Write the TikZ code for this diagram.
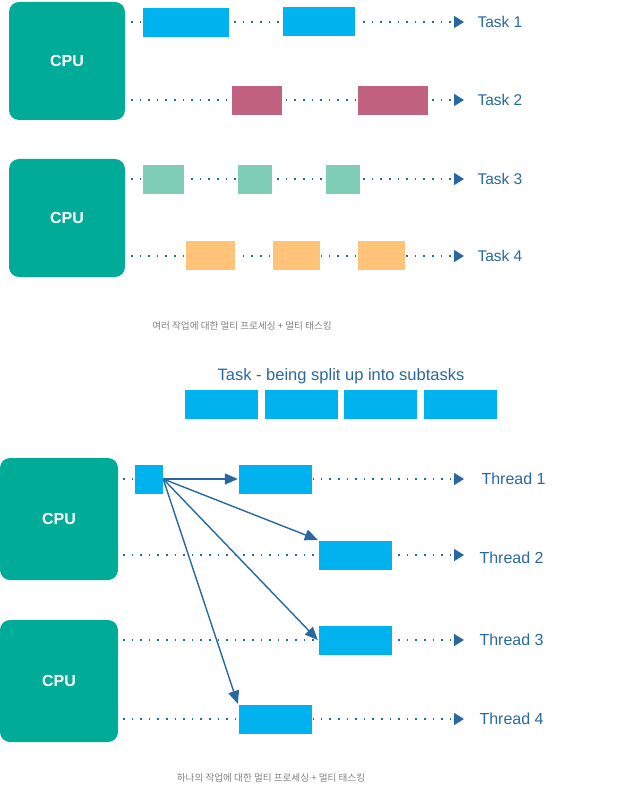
\documentclass[tikz,border=0pt]{standalone}
\usepackage{fontspec}
\setmainfont{Liberation Sans}
\newfontfamily\korean{Noto Sans CJK KR}
\usetikzlibrary{arrows.meta}
\definecolor{cputeal}{RGB}{0,171,151}
\definecolor{taskblue}{RGB}{0,178,238}
\definecolor{taskpink}{RGB}{193,98,128}
\definecolor{taskgreen}{RGB}{128,205,182}
\definecolor{taskorange}{RGB}{255,196,122}
\definecolor{linkblue}{RGB}{40,104,160}
\definecolor{captiongray}{RGB}{128,128,128}

\begin{document}
\begin{tikzpicture}[x=1pt,y=-1pt,
    cpu/.style={fill=cputeal,rounded corners=10pt,inner sep=0pt,text=white,
        font=\fontsize{16}{18}\selectfont\bfseries},
    blk/.style={fill=#1,draw=white,line width=0.4pt,inner sep=0pt,minimum height=30pt},
    timeline/.style={linkblue,line width=1.6pt,dash pattern=on 1.6pt off 7pt,
        -{Triangle[width=12pt,length=10pt]}},
    spawn/.style={linkblue,line width=1.4pt,-{Triangle[width=11pt,length=13pt]}},
    lbl/.style={anchor=west,text=linkblue,font=\fontsize{15.5}{18}\selectfont},
    caption/.style={text=captiongray,font=\korean\fontsize{9.6}{11}\selectfont}]
			\useasboundingbox (0,0) rectangle (619,802);
			\node[cpu,minimum width=116pt,minimum height=118pt] (cpu1) at (67,61) {CPU};
			\node[cpu,minimum width=116pt,minimum height=118pt] (cpu2) at (67,218) {CPU};
			\node[cpu,minimum width=118pt,minimum height=122pt] (cpu3) at (59,519) {CPU};
			\node[cpu,minimum width=118pt,minimum height=122pt] (cpu4) at (59,681) {CPU};

			\coordinate (s1) at (131,22);
			\coordinate (e1) at (464,22);
			\coordinate (s2) at (131,100);
			\coordinate (e2) at (464,100);
			\coordinate (s3) at (131,179);
			\coordinate (e3) at (464,179);
			\coordinate (s4) at (131,256);
			\coordinate (e4) at (464,256);
			\draw[timeline] (s1) -- (e1);
			\draw[timeline] (s2) -- (e2);
			\draw[timeline] (s3) -- (e3);
			\draw[timeline] (s4) -- (e4);
			\node[lbl] (task1) at (474,22) {Task 1};
			\node[lbl] (task2) at (474,100) {Task 2};
			\node[lbl] (task3) at (474,179) {Task 3};
			\node[lbl] (task4) at (474,256) {Task 4};

			\node[blk=taskblue,minimum width=87pt] (b11) at (185.5,22.5) {};
			\node[blk=taskblue,minimum width=73pt] (b12) at (318.5,21.5) {};
			\node[blk=taskpink,minimum width=51pt] (b21) at (256.5,100.5) {};
			\node[blk=taskpink,minimum width=71pt] (b22) at (392.5,100.5) {};
			\node[blk=taskgreen,minimum width=42pt] (g1) at (163,179) {};
			\node[blk=taskgreen,minimum width=35pt] (g2) at (254.5,179) {};
			\node[blk=taskgreen,minimum width=35pt] (g3) at (342.5,179) {};
			\node[blk=taskorange,minimum width=50pt] (o1) at (210,255.5) {};
			\node[blk=taskorange,minimum width=48pt] (o2) at (296,255.5) {};
			\node[blk=taskorange,minimum width=48pt] (o3) at (381,255.5) {};

			\node[caption] (cap1) at (242,326) {여러 작업에 대한 멀티 프로세싱 + 멀티 태스킹};

			\node[text=linkblue,font=\fontsize{16.5}{19}\selectfont] (title) at (341,376) {Task - being split up into subtasks};
			\node[blk=taskblue,minimum width=74pt] (sub1) at (221,404) {};
			\node[blk=taskblue,minimum width=74pt] (sub2) at (301,404) {};
			\node[blk=taskblue,minimum width=74pt] (sub3) at (380,404) {};
			\node[blk=taskblue,minimum width=74pt] (sub4) at (460,404) {};

			\coordinate (t1s) at (123,479);
			\coordinate (t1e) at (464,479);
			\coordinate (t2s) at (123,555);
			\coordinate (t2e) at (464,555);
			\coordinate (t3s) at (123,640);
			\coordinate (t3e) at (464,640);
			\coordinate (t4s) at (123,719);
			\coordinate (t4e) at (464,719);
			\draw[timeline] (t1s) -- (t1e);
			\draw[timeline] (t2s) -- (t2e);
			\draw[timeline] (t3s) -- (t3e);
			\draw[timeline] (t4s) -- (t4e);
			\node[lbl,font=\fontsize{16}{18}\selectfont] (thread1) at (478,479) {Thread 1};
			\node[lbl,font=\fontsize{16}{18}\selectfont] (thread2) at (476,558) {Thread 2};
			\node[lbl,font=\fontsize{16}{18}\selectfont] (thread3) at (476,640) {Thread 3};
			\node[lbl,font=\fontsize{16}{18}\selectfont] (thread4) at (476,719) {Thread 4};

			\node[blk=taskblue,minimum width=29pt] (part) at (148.5,479) {};
			\node[blk=taskblue,minimum width=74pt] (th1) at (275,479) {};
			\node[blk=taskblue,minimum width=74pt] (th2) at (355,555) {};
			\node[blk=taskblue,minimum width=74pt] (th3) at (355,640) {};
			\node[blk=taskblue,minimum width=74pt] (th4) at (275,719) {};
			\draw[spawn] (part.east) -- (th1.west);
			\draw[spawn] (part.east) -- (th2.north west);
			\draw[spawn] (part.east) -- (th3.west);
			\draw[spawn] (part.east) -- (th4.north west);

			\node[caption] (cap2) at (271,778) {하나의 작업에 대한 멀티 프로세싱 + 멀티 태스킹};
		\end{tikzpicture}
\end{document}
